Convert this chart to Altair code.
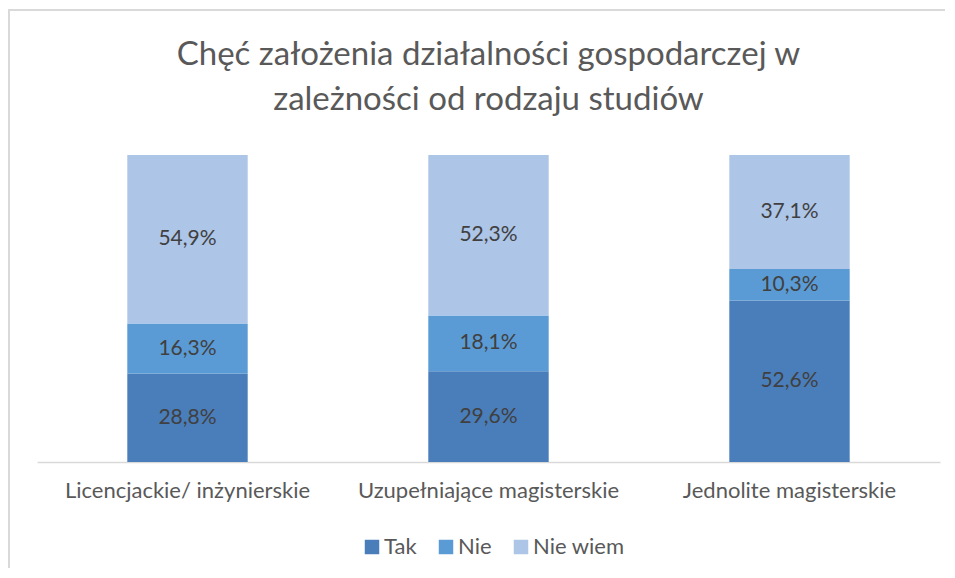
import altair as alt
import pandas as pd

title_lines = ["Chęć założenia działalności gospodarczej w", "zależności od rodzaju studiów"]
categories = ["Licencjackie/ inżynierskie", "Uzupełniające magisterskie", "Jednolite magisterskie"]
series = ["Tak", "Nie", "Nie wiem"]
tak = [28.8, 29.6, 52.6]
nie = [16.3, 18.1, 10.3]
nie_wiem = [54.9, 52.3, 37.1]
colors = ["#4a7ebb", "#5b9bd5", "#adc5e7"]

rows = []
for i, c in enumerate(categories):
    for j, (s, vals) in enumerate(zip(series, [tak, nie, nie_wiem])):
        rows.append({"cat": c, "series": s, "value": vals[i], "order": j})
df = pd.DataFrame(rows)

FONT = "Lato"
W, H = 903, 307

base = alt.Chart(df).transform_stack(
    stack="value", groupby=["cat"], as_=["y0", "y1"],
    sort=[alt.SortField("order", order="ascending")]
).transform_calculate(
    mid="(datum.y0 + datum.y1) / 2",
    label="replace(format(datum.value, '.1f'), '.', ',') + '%'"
)

xenc = alt.X("cat:N", sort=categories, title=None,
             scale=alt.Scale(paddingInner=0.6, paddingOuter=0.3),
             axis=alt.Axis(labelAngle=0, ticks=False, domainColor="#d9d9d9", domainWidth=1.5,
                           labelFont=FONT, labelFontSize=22, labelColor="#595959",
                           labelPadding=18, labelLimit=0, grid=False))
yscale = alt.Scale(domain=[0, 100], nice=False)

bars = base.mark_bar().encode(
    x=xenc,
    y=alt.Y("y0:Q", scale=yscale, axis=None),
    y2="y1:Q",
    color=alt.Color("series:N", sort=series,
                    scale=alt.Scale(domain=series, range=colors),
                    legend=alt.Legend(title=None, orient="none", direction="horizontal",
                                      legendX=324, legendY=381, symbolType="square",
                                      symbolSize=210, symbolStrokeWidth=0, symbolOpacity=1,
                                      labelFont=FONT, labelFontSize=22, labelColor="#595959",
                                      labelOffset=1, columnPadding=18)),
    order=alt.Order("order:Q"),
)

texts = base.mark_text(font=FONT, fontSize=21, color="#404040").encode(
    x=alt.X("cat:N", sort=categories),
    y=alt.Y("mid:Q", scale=yscale),
    text="label:N",
)

one = pd.DataFrame({"a": [0]})
border = alt.Chart(one).mark_rect(
    filled=False, stroke="#d9d9d9", strokeWidth=2
).encode(
    x=alt.value(-28), x2=alt.value(1100), y=alt.value(-145), y2=alt.value(700)
)

title = alt.Chart(pd.DataFrame({"t": ["\n".join(title_lines)]})).mark_text(
    font=FONT, fontSize=33, color="#595959", align="center", baseline="alphabetic",
    lineBreak="\n", lineHeight=45
).encode(
    x=alt.value(W / 2), y=alt.value(-90), text="t:N"
)

chart = alt.layer(border, bars, texts, title).properties(
    width=W, height=H,
    autosize=alt.AutoSizeParams(type="none"),
    padding={"left": 29, "top": 147, "right": 5, "bottom": 106},
).configure_view(stroke=None)

chart.save("out.html", embed_options={"renderer": "svg", "actions": False})
